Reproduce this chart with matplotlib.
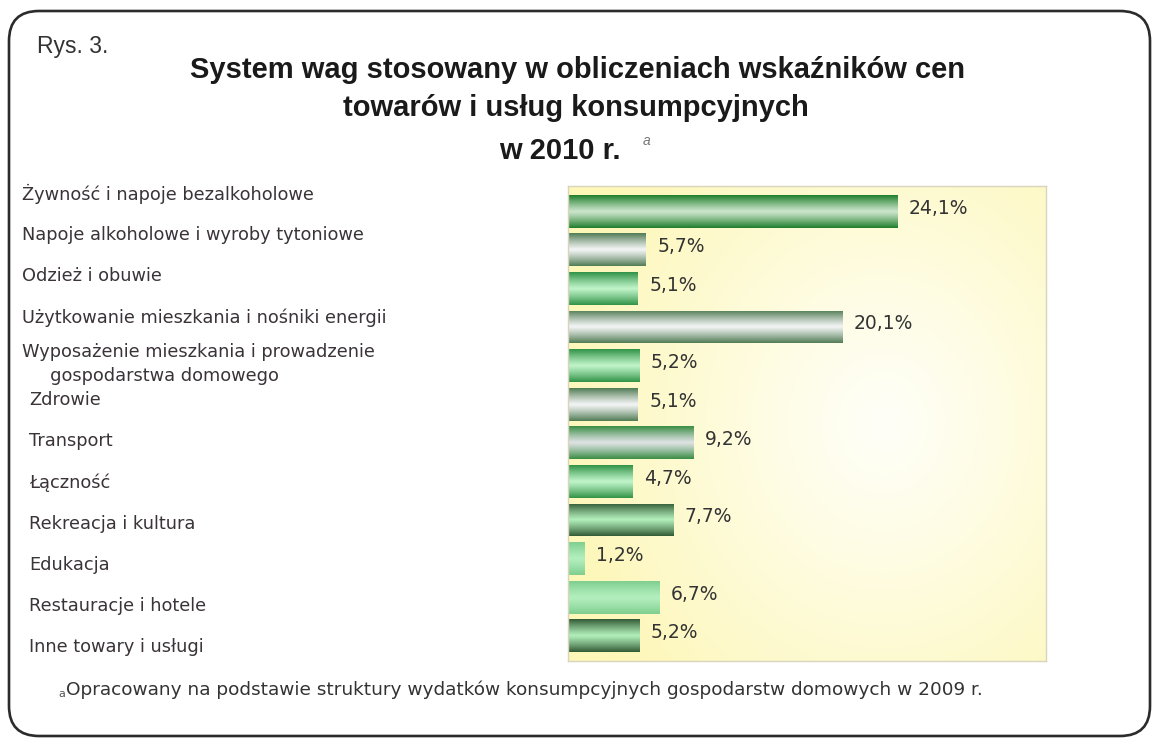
import numpy as np
import matplotlib
matplotlib.use("Agg")
import matplotlib.pyplot as plt
from matplotlib.patches import FancyBboxPatch
from matplotlib.transforms import IdentityTransform
from matplotlib.colors import to_rgb

# ---------------- data ----------------
categories = [
    "Żywność i napoje bezalkoholowe",
    "Napoje alkoholowe i wyroby tytoniowe",
    "Odzież i obuwie",
    "Użytkowanie mieszkania i nośniki energii",
    "Wyposażenie mieszkania i prowadzenie\n     gospodarstwa domowego",
    "Zdrowie",
    "Transport",
    "Łączność",
    "Rekreacja i kultura",
    "Edukacja",
    "Restauracje i hotele",
    "Inne towary i usługi",
]
values = [24.1, 5.7, 5.1, 20.1, 5.2, 5.1, 9.2, 4.7, 7.7, 1.2, 6.7, 5.2]

title_lines = ["System wag stosowany w obliczeniach wskaźników cen",
               "towarów i usług konsumpcyjnych",
               "w 2010 r."]
fig_label = "Rys. 3."
footnote = "Opracowany na podstawie struktury wydatków konsumpcyjnych gospodarstw domowych w 2009 r."

# bar gradient styles (edge colour, centre colour)
styles = {
    "green":    ("#23802f", "#cbe5cb"),
    "gray":     ("#557f58", "#f2f4f4"),
    "mint":     ("#34954a", "#bff3c8"),
    "darkmint": ("#355e38", "#b0edb9"),
    "pale":     ("#80cf90", "#b3efbe"),
    "graygreen":("#3e8f48", "#dde2e2"),
}
bar_style = ["green", "gray", "mint", "gray", "mint", "gray",
             "graygreen", "mint", "darkmint", "pale", "pale", "darkmint"]

W, H = 1153, 738
fig = plt.figure(figsize=(W / 100, H / 100), dpi=100)
fig.patch.set_facecolor("white")

def fx(px):
    return px / W

def fy(py):
    return 1 - py / H

# rounded frame
frame = FancyBboxPatch((9, H - 736), 1141, 725,
                       boxstyle="round,pad=0,rounding_size=30",
                       transform=IdentityTransform(), fill=False,
                       edgecolor="#2b2b2b", linewidth=1.9)
fig.patches.append(frame)

# axes geometry
ax_rect = [fx(568), fy(661), fx(1046) - fx(568), fy(186) - fy(661)]

# background gradient axes
bg = fig.add_axes(ax_rect, zorder=0)
ny, nx = 200, 300
yy, xx = np.mgrid[0:1:ny * 1j, 0:1:nx * 1j]
d = np.sqrt(((xx - 0.66) / 0.7) ** 2 + ((yy - 0.5) / 0.8) ** 2)
d = np.clip(d, 0, 1) ** 1.1
c_center = np.array(to_rgb("#fffff8"))
c_edge = np.array(to_rgb("#fdf7b8"))
img = c_center[None, None, :] * (1 - d[..., None]) + c_edge[None, None, :] * d[..., None]
bg.imshow(img, extent=(0, 1, 0, 1), aspect="auto", interpolation="bilinear")
bg.set_axis_off()

ax = fig.add_axes(ax_rect, zorder=1)
ax.set_facecolor("none")

y = np.arange(len(categories))
bars = ax.barh(y, values, height=0.85, color="none", edgecolor="none")

prof_t = np.linspace(-1, 1, 33)
w = np.abs(prof_t) ** 1.15
for b, st in zip(bars, bar_style):
    edge, centre = (np.array(to_rgb(c)) for c in styles[st])
    col = centre[None, :] * (1 - w[:, None]) + edge[None, :] * w[:, None]
    arr = col[:, None, :]
    x0, y0 = b.get_x(), b.get_y()
    bw, bh = b.get_width(), b.get_height()
    im = ax.imshow(arr, extent=(x0, x0 + bw, y0 + bh, y0), aspect="auto",
                   interpolation="bilinear", interpolation_stage="rgba",
                   zorder=2)
    im.set_clip_path(b)

for yi, v in zip(y, values):
    ax.text(v + 0.85, yi - 0.08, f"{v:.1f}%".replace(".", ","),
            va="center", ha="left", fontsize=13.5, color="#333333",
            family="DejaVu Sans")

ax.set_xlim(0, 35)
ax.set_ylim(len(categories) - 0.35, -0.65)
ax.set_xticks([])
ax.set_yticks([])
for s in ax.spines.values():
    s.set_color("#d9d5bd")
    s.set_linewidth(1.0)

# category labels
for i, lab in enumerate(categories):
    ypx = 194 + i * 41.2
    if "\n" in lab:
        ypx = 364
    xpx = 22 if i < 5 else 29
    fig.text(fx(xpx), fy(ypx), lab, ha="left", va="center", fontsize=12.8,
             color="#3a3338", family="DejaVu Sans", linespacing=1.4)

# title
fig.text(fx(37), fy(47), fig_label, fontsize=16.5, color="#333333",
         family="Liberation Sans", va="center", ha="left")
tf = dict(family="Liberation Sans", fontweight="bold", fontsize=21,
          color="#1a1a1a", ha="center", va="center")
fig.text(fx(578), fy(70), title_lines[0], **tf)
fig.text(fx(576), fy(108), title_lines[1], **tf)
fig.text(fx(560), fy(151), title_lines[2], **tf)
fig.text(fx(643), fy(141), "a", fontsize=10, style="italic", color="#777777",
         family="Liberation Sans", ha="left", va="center")

# footnote
fig.text(fx(58), fy(694), "a", fontsize=8, color="#555555",
         family="DejaVu Sans", ha="left", va="center")
fig.text(fx(66), fy(690), footnote, fontsize=13.3, color="#333333",
         family="DejaVu Sans", ha="left", va="center")

fig.savefig("out.png", dpi=100)
